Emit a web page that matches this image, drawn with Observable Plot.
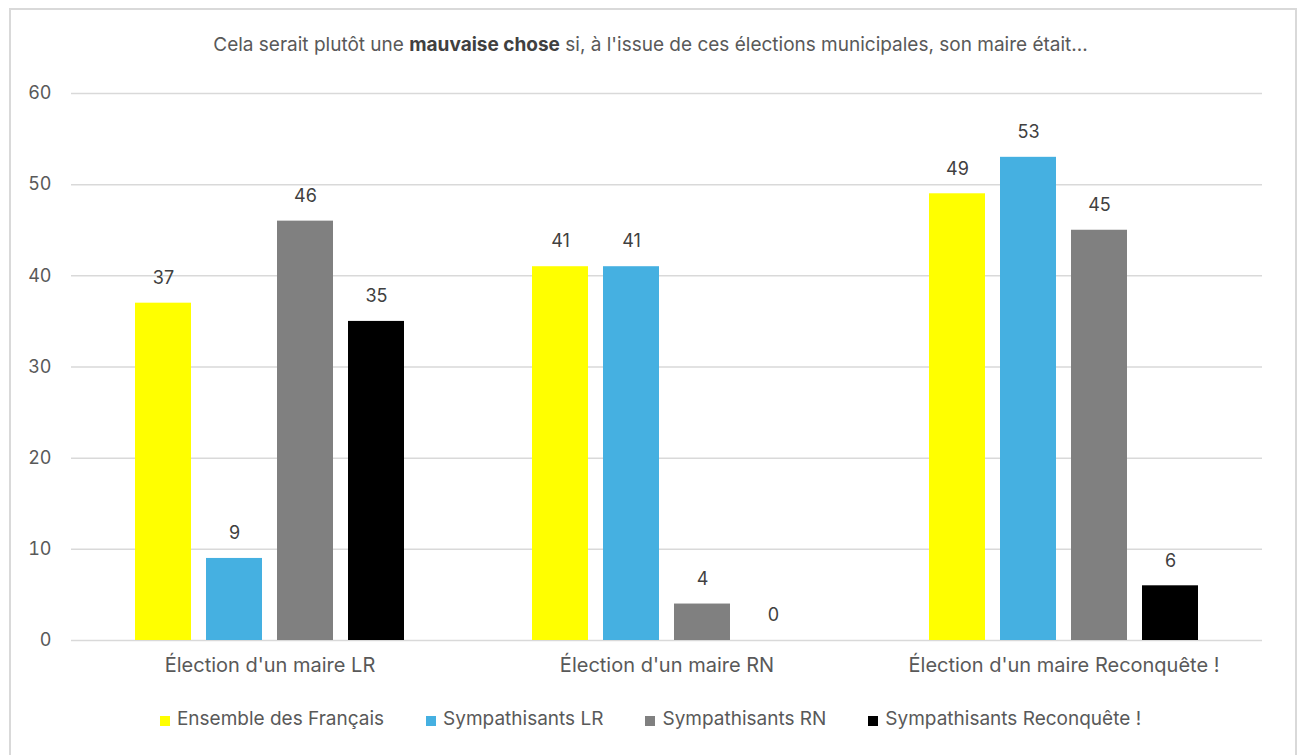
<!DOCTYPE html>
<html>
<head>
<meta charset="utf-8">
<script src="https://cdn.jsdelivr.net/npm/d3@7"></script>
<script src="https://cdn.jsdelivr.net/npm/@observablehq/plot@0.6"></script>
<style>
  html, body { margin: 0; padding: 0; background: #fff; }
  body { width: 1301px; height: 755px; position: relative; overflow: hidden; font-family: Inter, "Liberation Sans", Arial, sans-serif; }
  #frame { position: absolute; left: 9px; top: 8px; width: 1288px; height: 760px; border: 2px solid #d9d9d9; box-sizing: border-box; }
  #title { position: absolute; left: 0; width: 1301px; top: 33px; text-align: center; font-size: 19px; color: #595959; }
  #title b { color: #404040; }
  #chart { position: absolute; left: 0; top: 0; }
  #legend { position: absolute; left: 0; width: 1301px; top: 707px; display: flex; justify-content: center; gap: 42px; font-size: 19px; color: #595959; }
  .item { display: flex; align-items: center; gap: 7px; }
  .sw { width: 10px; height: 10px; display: inline-block; margin-top: 4px; }
</style>
</head>
<body>
<div id="frame"></div>
<div id="title">Cela serait plutôt une <b>mauvaise chose</b> si, à l'issue de ces élections municipales, son maire était...</div>
<div id="chart"></div>
<div id="legend"></div>
<script>
const groups = ["Élection d'un maire LR", "Élection d'un maire RN", "Élection d'un maire Reconquête !"];
const series = ["Ensemble des Français", "Sympathisants LR", "Sympathisants RN", "Sympathisants Reconquête !"];
const ensemble = [37, 41, 49];
const sympLR = [9, 41, 53];
const sympRN = [46, 4, 45];
const sympReconquete = [35, 0, 6];
const colors = ["#FFFF00", "#45B0E1", "#808080", "#000000"];
const yTicks = [0, 10, 20, 30, 40, 50, 60];

const columns = [ensemble, sympLR, sympRN, sympReconquete];
const data = groups.flatMap((g, i) => series.map((s, j) => ({group: g, series: s, value: columns[j][i]})));

const chart = Plot.plot({
  width: 1301,
  height: 690,
  marginLeft: 71,
  marginRight: 39,
  marginTop: 93,
  marginBottom: 50,
  style: {fontFamily: "Inter, 'Liberation Sans', Arial, sans-serif", background: "transparent"},
  fx: {domain: groups, padding: 0, label: null},
  x: {domain: series, paddingInner: 0.208, paddingOuter: 0.861, axis: null},
  y: {domain: [0, 60], label: null},
  color: {domain: series, range: colors},
  marks: [
    Plot.gridY(yTicks, {stroke: "#d9d9d9", strokeOpacity: 1, strokeWidth: 1.5}),
    Plot.barY(data, {fx: "group", x: "series", y: "value", fill: "series"}),
    Plot.text(data, {fx: "group", x: "series", y: "value", text: d => String(d.value), dy: -25, fontSize: 18, fill: "#404040"}),
    Plot.axisY(yTicks, {tickSize: 0, tickPadding: 20, fontSize: 18, fill: "#595959", label: null}),
    Plot.axisFx({anchor: "bottom", tickSize: 0, tickPadding: 17, fontSize: 20, fill: "#595959", label: null})
  ]
});
document.getElementById("chart").appendChild(chart);

const legend = document.getElementById("legend");
series.forEach((s, i) => {
  const item = document.createElement("div");
  item.className = "item";
  const sw = document.createElement("span");
  sw.className = "sw";
  sw.style.background = colors[i];
  const t = document.createElement("span");
  t.textContent = s;
  item.appendChild(sw);
  item.appendChild(t);
  legend.appendChild(item);
});
</script>
</body>
</html>
